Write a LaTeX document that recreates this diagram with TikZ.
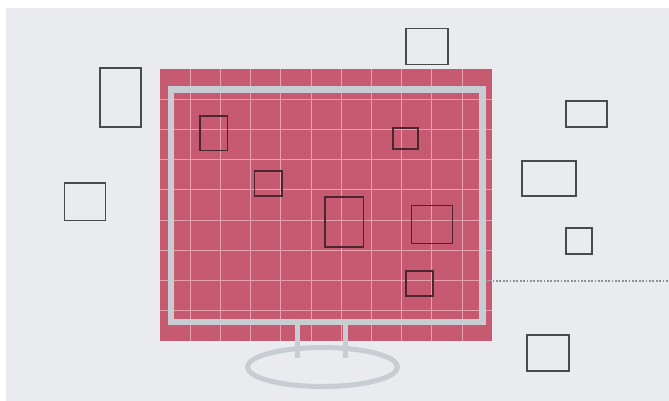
\documentclass[tikz,border=0pt]{standalone}
\definecolor{bgc}{HTML}{E9EBEE}
\definecolor{redc}{HTML}{C65A70}
\definecolor{gridc}{HTML}{E7A0AE}
\definecolor{framec}{HTML}{C8CDD2}
\definecolor{boxc}{HTML}{4A4A4C}
\definecolor{ibox}{HTML}{4A2630}
\definecolor{dotc}{HTML}{8C9096}
\tikzset{
  obox/.style={draw=boxc, line width=1.8pt, inner sep=0pt, fill=none},
  ibx/.style={draw=ibox, line width=1.6pt, inner sep=0pt, fill=none},
  gridline/.style={draw=gridc, line width=0.9pt},
  standline/.style={draw=framec, line width=5pt},
  dotline/.style={draw=dotc, line width=2.4pt, dash pattern=on 1.8pt off 1.6pt},
}
\begin{document}
\begin{tikzpicture}[x=1pt,y=-1pt]
\useasboundingbox (0,0) rectangle (669,401);
\fill[white] (0,0) rectangle (669,401);
\fill[bgc] (6,8) rectangle (669,401);
% stand base
\draw[standline] (322.5,367) ellipse [x radius=75, y radius=19.5];
% screen
\fill[redc] (160,69) rectangle (492,341);
\foreach \i in {1,...,10} {
  \draw[gridline] (160+30.2*\i,69) -- (160+30.2*\i,341);
}
\foreach \j in {1,...,8} {
  \draw[gridline] (160,69+30.2*\j) -- (492,69+30.2*\j);
}
% posts
\draw[standline] (297,322) -- (297,358);
\draw[standline] (345,322) -- (345,358);
% frame
\node[draw=framec, line width=6.5pt, minimum width=311.5pt, minimum height=232.5pt, inner sep=0pt] (frame) at (326.75,205.75) {};
% dotted line
\coordinate (dotend) at (669,281);
\draw[dotline] (frame.east |- dotend) -- (dotend);
% inside boxes
\node[ibx, minimum width=27.5pt, minimum height=34.5pt] (a) at (213.75,133.25) {};
\node[ibx, minimum width=27.5pt, minimum height=25pt] (b) at (268.25,183.2) {};
\node[ibx, minimum width=25pt, minimum height=21pt] (c) at (405.5,138.5) {};
\node[ibx, minimum width=38.5pt, minimum height=50pt] (d) at (344.25,222) {};
\node[ibx, minimum width=41pt, minimum height=38pt] (e) at (432,224.6) {};
\node[ibx, minimum width=27pt, minimum height=25pt] (f) at (419.5,283.5) {};
% outside boxes
\node[obox, minimum width=42pt, minimum height=36pt] (o1) at (427,46.5) {};
\node[obox, minimum width=41pt, minimum height=59pt] (o2) at (120.5,97.5) {};
\node[obox, minimum width=41pt, minimum height=37.5pt] (o3) at (85,201.75) {};
\node[obox, minimum width=41pt, minimum height=26pt] (o4) at (586.5,114) {};
\node[obox, minimum width=54pt, minimum height=35pt] (o5) at (549,178.5) {};
\node[obox, minimum width=26pt, minimum height=26pt] (o6) at (579,241) {};
\node[obox, minimum width=42pt, minimum height=36pt] (o7) at (548,353) {};
\end{tikzpicture}
\end{document}
